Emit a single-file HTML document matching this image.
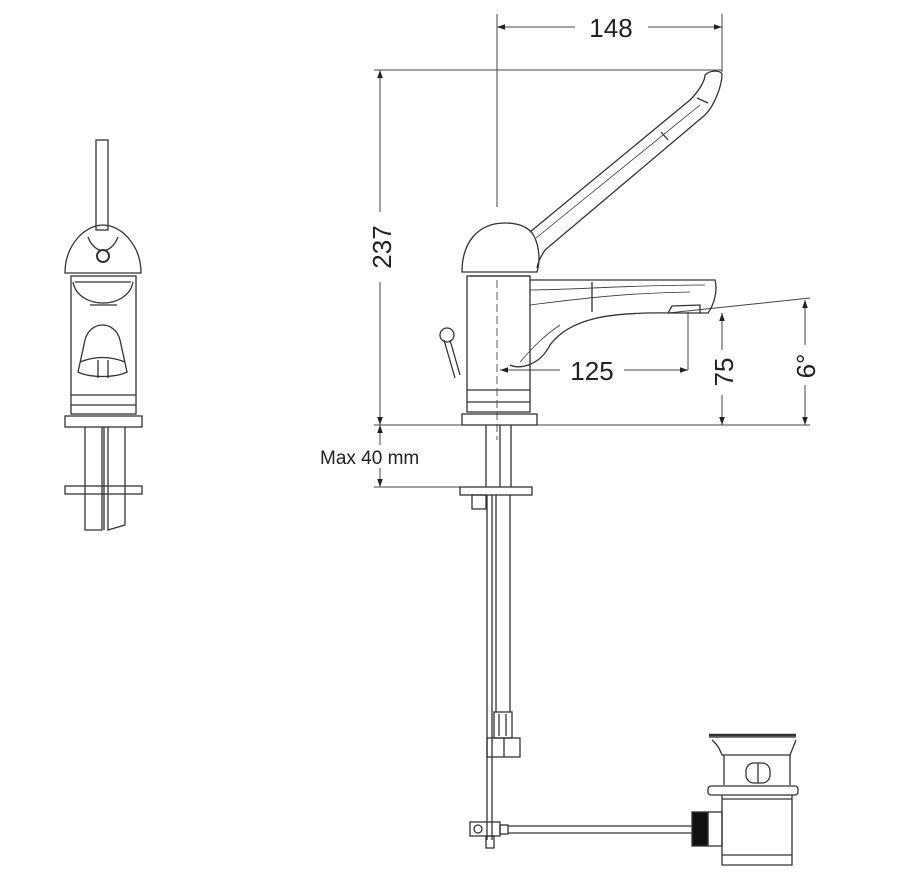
<!DOCTYPE html>
<html><head><meta charset="utf-8"><style>
html,body{margin:0;padding:0;background:#fff;}
svg{display:block;}
text{font-family:"Liberation Sans",Arial,sans-serif;fill:#222;}
</style></head><body>
<svg width="900" height="890" viewBox="0 0 900 890" xmlns="http://www.w3.org/2000/svg">
<defs>
<marker id="a" viewBox="0 0 10 10" refX="10" refY="5" markerWidth="10" markerHeight="8" orient="auto-start-reverse" markerUnits="userSpaceOnUse"><path d="M0,1.5 L10,5 L0,8.5z" fill="#222"/></marker>
</defs>
<g fill="none" stroke="#444" stroke-width="1">
<line x1="497" y1="14" x2="497" y2="207"/>
<line x1="722" y1="14" x2="722" y2="72"/>
<line x1="497" y1="27" x2="575" y2="27" marker-start="url(#a)"/>
<line x1="648" y1="27" x2="722" y2="27" marker-end="url(#a)"/>
<line x1="374" y1="70" x2="722" y2="70"/>
<line x1="380" y1="70" x2="380" y2="212" marker-start="url(#a)"/>
<line x1="380" y1="282" x2="380" y2="425" marker-end="url(#a)"/>
<line x1="374" y1="425" x2="810" y2="425"/>
<line x1="380" y1="425" x2="380" y2="445" marker-start="url(#a)"/>
<line x1="380" y1="468" x2="380" y2="487" marker-end="url(#a)"/>
<line x1="374" y1="487" x2="460" y2="487"/>
<line x1="722" y1="313" x2="722" y2="350" marker-start="url(#a)"/>
<line x1="722" y1="395" x2="722" y2="425" marker-end="url(#a)"/>
<line x1="668" y1="313" x2="810" y2="298"/>
<line x1="805" y1="300" x2="805" y2="345" marker-start="url(#a)"/>
<line x1="805" y1="385" x2="805" y2="425" marker-end="url(#a)"/>
<line x1="688" y1="312" x2="688" y2="370"/>
<line x1="500" y1="370" x2="560" y2="370" marker-start="url(#a)"/>
<line x1="624" y1="370" x2="688" y2="370" marker-end="url(#a)"/>
</g>
<text x="611" y="37" font-size="26" text-anchor="middle">148</text>
<text x="592" y="380" font-size="26" text-anchor="middle">125</text>
<text transform="translate(391,247) rotate(-90)" font-size="26" text-anchor="middle">237</text>
<text transform="translate(733,372) rotate(-90)" font-size="26" text-anchor="middle">75</text>
<text transform="translate(815,366) rotate(-90)" font-size="26" text-anchor="middle">6°</text>
<text x="320" y="464" font-size="19">Max 40 mm</text>

<g fill="none" stroke="#333" stroke-width="1.3">
<path d="M462,272 C462,240 480,223 505,223 C520,223 530,228 534,236 C540,248 540,262 537,272 Z"/>
<line x1="470" y1="276" x2="530" y2="276"/>
<path d="M530,232 L690,100 C700,90 705,80 705,75 C710,70 720,70 722,74 C722,85 715,105 705,115 L545,250 C540,258 538,262 537,268"/>
<path d="M536,238 L700,105" stroke-width="0.8"/>
<line x1="661" y1="132" x2="668" y2="140"/>
<line x1="697" y1="98" x2="708" y2="103"/>
<rect x="467" y="276" width="63" height="136"/>
<line x1="467" y1="390" x2="530" y2="390"/>
<line x1="467" y1="402" x2="530" y2="402"/>
<rect x="462" y="414" width="75" height="11"/>
<path d="M530,280 L715,280 C718,290 714,305 708,313 L670,313 C610,312 570,318 550,345 C540,365 520,370 510,365"/>
<path d="M530,290 C570,290 630,285 705,285" stroke-width="0.8"/>
<path d="M530,305 C570,300 620,293 690,292" stroke-width="0.8"/>
<line x1="592" y1="282" x2="592" y2="312"/>
<path d="M668,313 L672,306 L700,305 L700,313"/>
<path d="M520,362 C535,345 545,335 560,325" stroke-width="0.8"/>
<circle cx="447" cy="335" r="7"/>
<path d="M450,340 L460,375 M444,340 L455,378"/>
<line x1="497" y1="280" x2="497" y2="440" stroke-dasharray="8,4" stroke-width="0.8"/>
<line x1="486" y1="425" x2="486" y2="487"/>
<line x1="500" y1="425" x2="500" y2="487"/>
<line x1="511" y1="425" x2="511" y2="487"/>
<rect x="460" y="487" width="72" height="8"/>
<rect x="472" y="495" width="14" height="14"/>
<line x1="487" y1="495" x2="487" y2="840"/>
<line x1="492" y1="495" x2="492" y2="840"/>
<line x1="496" y1="495" x2="496" y2="712"/>
<line x1="510" y1="495" x2="510" y2="712"/>
<rect x="494" y="712" width="18" height="26"/>
<line x1="499" y1="714" x2="499" y2="736"/><line x1="506" y1="714" x2="506" y2="736"/>
<rect x="487" y="738" width="33" height="19"/>
<line x1="504" y1="738" x2="504" y2="757"/>
<rect x="470" y="822" width="30" height="14"/>
<circle cx="478" cy="829" r="4"/>
<rect x="500" y="825" width="8" height="9"/>
<rect x="486" y="836" width="8" height="12"/>
<line x1="508" y1="826" x2="692" y2="826"/>
<line x1="508" y1="833" x2="692" y2="833"/>
<rect x="692" y="812" width="16" height="34" fill="#111"/>
<rect x="708" y="812" width="14" height="34"/>
<path d="M709,737 L796,737 M712,740 C718,745 720,750 722,755 L790,755 C792,750 794,745 796,740"/>
<line x1="709" y1="735" x2="796" y2="735" stroke-width="2.5"/>
<path d="M724,755 L724,785 M790,755 L790,785"/>
<rect x="746" y="763" width="24" height="20" rx="8"/>
<line x1="758" y1="763" x2="758" y2="783"/>
<rect x="708" y="786" width="90" height="9" rx="3"/>
<path d="M722,795 L722,865 L792,865 L792,795 M722,855 L792,855 M722,799 L792,799"/>
<rect x="96" y="140" width="12" height="90"/>
<path d="M65,273 C65,245 85,225 103,225 C121,225 141,245 141,273 Z"/>
<circle cx="103" cy="256" r="6" stroke-width="2"/>
<path d="M88,237 C95,255 111,255 118,237"/>
<rect x="71" y="276" width="65" height="138"/>
<path d="M73,282 C78,310 128,310 133,282 M75,282 L131,282"/>
<path d="M90,305 L117,305"/>
<path d="M85,340 C90,320 115,320 120,340 L127,372 C115,378 90,378 78,372 Z"/>
<path d="M80,362 C95,356 110,356 125,362 M98,360 L98,378 M108,360 L108,378"/>
<line x1="71" y1="395" x2="136" y2="395"/>
<line x1="71" y1="405" x2="136" y2="405"/>
<rect x="65" y="416" width="77" height="11"/>
<path d="M85,427 L85,530 L102,530 L102,427 M104,427 L104,530 M108,427 L108,530 L125,525 L125,427"/>
<rect x="65" y="486" width="77" height="8"/>
</g>
</svg>
</body></html>
